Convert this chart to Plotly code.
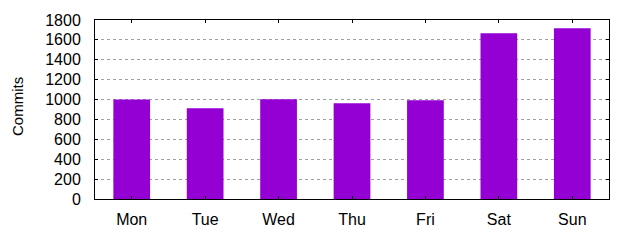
import plotly.graph_objects as go

days = ["Mon", "Tue", "Wed", "Thu", "Fri", "Sat", "Sun"]
commits = [1000, 912, 1002, 962, 992, 1667, 1717]
y_ticks = [0, 200, 400, 600, 800, 1000, 1200, 1400, 1600, 1800]
y_label = "Commits"

FONT = "Liberation Sans, Arial, sans-serif"

fig = go.Figure()
fig.add_trace(go.Bar(
    x=list(range(len(days))), y=commits, width=0.5,
    marker=dict(color="#9400d3", line=dict(width=0)),
))

L, R, T, B = 95, 31, 20, 39
W, H = 640, 240
fig.update_layout(
    width=W, height=H,
    margin=dict(l=L, r=R, t=T, b=B, pad=0),
    paper_bgcolor="white", plot_bgcolor="white",
    showlegend=False,
    font=dict(family=FONT, size=16, color="black"),
)
fig.update_xaxes(
    range=[-0.5, 6.5], tickmode="array",
    tickvals=list(range(len(days))), ticktext=days,
    ticks="inside", ticklen=3, tickcolor="black", tickwidth=1,
    showline=True, linecolor="black", linewidth=1, mirror="ticks",
    showgrid=False, zeroline=False, ticklabelstandoff=6,
)
fig.update_yaxes(
    range=[0, 1800], tickmode="array", tickvals=y_ticks,
    ticks="inside", ticklen=3, tickcolor="black", tickwidth=1,
    showline=True, linecolor="black", linewidth=1, mirror="ticks",
    showgrid=True, gridcolor="#a0a0a0", gridwidth=1, griddash="3px,3px",
    zeroline=False, ticklabelstandoff=10,
)
fig.add_annotation(
    text=y_label, textangle=-90, showarrow=False,
    xref="paper", yref="paper",
    x=(17 - L) / (W - L - R), y=(H - B - 108) / (H - T - B),
    xanchor="center", yanchor="middle",
    font=dict(family=FONT, size=15, color="black"),
)
fig.write_html("out.html")
